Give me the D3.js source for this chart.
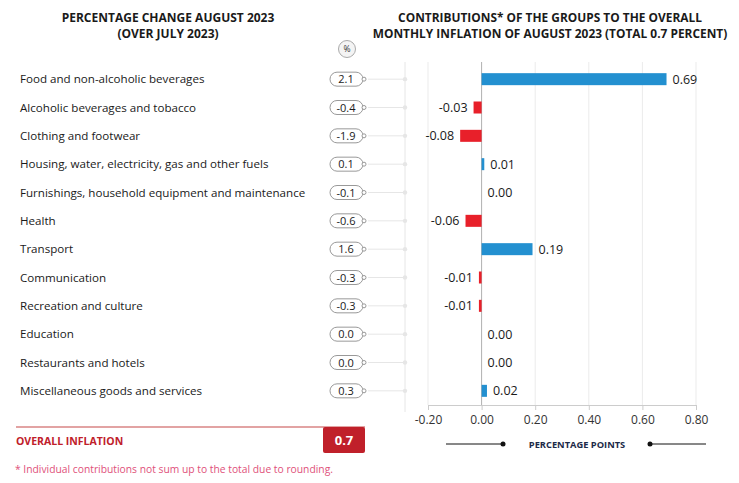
<!DOCTYPE html>
<html><head><meta charset="utf-8">
<script src="https://cdn.jsdelivr.net/npm/d3@7"></script>
<style>
body{margin:0;background:#fff;}
svg{display:block;font-family:"Open Sans",sans-serif;}
</style></head>
<body><svg id="c" width="739" height="483"></svg>
<script>
const categories = ["Food and non-alcoholic beverages","Alcoholic beverages and tobacco","Clothing and footwear","Housing, water, electricity, gas and other fuels","Furnishings, household equipment and maintenance","Health","Transport","Communication","Recreation and culture","Education","Restaurants and hotels","Miscellaneous goods and services"];
const pctChange = ["2.1","-0.4","-1.9","0.1","-0.1","-0.6","1.6","-0.3","-0.3","0.0","0.0","0.3"];
const contributions = [0.69,-0.03,-0.08,0.01,0.00,-0.06,0.19,-0.01,-0.01,0.00,0.00,0.02];
const xTicks = [-0.2,0,0.2,0.4,0.6,0.8];
const overall = "0.7";

const svg = d3.select("#c");
const x = d3.scaleLinear().domain([-0.2,0.8]).range([428,696]);
const y = d3.scaleBand().domain(categories).range([65,405]).paddingInner(0);
const cy = d => y(d) + y.bandwidth()/2;

// titles
const t1 = svg.append("text").attr("x",168).attr("y",22).attr("text-anchor","middle")
  .attr("font-weight",700).attr("font-size",12).attr("fill","#1a1a1a");
t1.append("tspan").attr("x",168).text("PERCENTAGE CHANGE AUGUST 2023");
t1.append("tspan").attr("x",168).attr("dy",16).text("(OVER JULY 2023)");
const t2 = svg.append("text").attr("x",550).attr("y",22).attr("text-anchor","middle")
  .attr("font-weight",700).attr("font-size",11.9).attr("fill","#1a1a1a");
t2.append("tspan").attr("x",550).text("CONTRIBUTIONS* OF THE GROUPS TO THE OVERALL");
t2.append("tspan").attr("x",550).attr("dy",16).text("MONTHLY INFLATION OF AUGUST 2023 (TOTAL 0.7 PERCENT)");

// % circle
svg.append("circle").attr("cx",347).attr("cy",49).attr("r",8.5).attr("fill","#f4f4f4").attr("stroke","#aaa");
svg.append("text").attr("x",347).attr("y",52).attr("text-anchor","middle").attr("font-size",8.5).attr("fill","#333").text("%");

// left vertical line
svg.append("line").attr("x1",405).attr("x2",405).attr("y1",62).attr("y2",412).attr("stroke","#e6e6e6");

// grid
svg.append("g").selectAll("line").data(xTicks).join("line")
  .attr("x1",d=>x(d)).attr("x2",d=>x(d)).attr("y1",62).attr("y2",405)
  .attr("stroke",d=>d===0?"#b0b0b0":"#ebebeb");

// axis
const ax = svg.append("g").attr("transform","translate(0,405)")
  .call(d3.axisBottom(x).tickValues(xTicks).tickFormat(d3.format(".2f")).tickSize(5).tickSizeOuter(0));
ax.select(".domain").attr("stroke","#ccc");
ax.selectAll(".tick line").attr("stroke","#ccc");
ax.selectAll(".tick text").attr("font-size",12).attr("fill","#333").attr("font-family","Open Sans, sans-serif").attr("dy","0.9em")
  .text(d=>d<0?"-"+Math.abs(d).toFixed(2):d.toFixed(2));

// rows
const rows = svg.append("g").selectAll("g").data(categories).join("g");
rows.append("text").attr("x",20).attr("y",d=>cy(d)+4).attr("font-size",11.6).attr("fill","#1a1a1a").text(d=>d);
rows.append("line").attr("x1",368).attr("x2",405).attr("y1",d=>cy(d)).attr("y2",d=>cy(d)).attr("stroke","#e6e6e6");
rows.append("circle").attr("cx",405).attr("cy",d=>cy(d)).attr("r",2.2).attr("fill","#e6e6e6");
rows.append("rect").attr("x",330).attr("y",d=>cy(d)-7).attr("width",33).attr("height",14).attr("rx",7)
  .attr("fill","#fff").attr("stroke","#999");
rows.append("circle").attr("cx",364).attr("cy",d=>cy(d)).attr("r",2).attr("fill","#fff").attr("stroke","#999");
rows.append("text").attr("x",346).attr("y",d=>cy(d)+4).attr("text-anchor","middle").attr("font-size",11).attr("fill","#1a1a1a")
  .text((d,i)=>pctChange[i]);

// bars
const bars = svg.append("g").selectAll("g").data(contributions).join("g");
bars.append("rect")
  .attr("x",d=>x(Math.min(0,d))).attr("width",d=>Math.abs(x(d)-x(0)))
  .attr("y",(d,i)=>cy(categories[i])-6).attr("height",12)
  .attr("fill",d=>d<0?"#e8202a":"#2390d0");
bars.append("text")
  .attr("x",d=>d<0?x(d)-6:x(d)+6).attr("y",(d,i)=>cy(categories[i])+4.5)
  .attr("text-anchor",d=>d<0?"end":"start").attr("font-size",12.5).attr("fill","#1a1a1a")
  .text(d=>d<0?"-"+Math.abs(d).toFixed(2):d.toFixed(2));

// percentage points label
svg.append("line").attr("x1",446).attr("x2",503).attr("y1",444).attr("y2",444).attr("stroke","#111");
svg.append("circle").attr("cx",503).attr("cy",444).attr("r",2.5).attr("fill","#111");
svg.append("line").attr("x1",650).attr("x2",706).attr("y1",444).attr("y2",444).attr("stroke","#111");
svg.append("circle").attr("cx",650).attr("cy",444).attr("r",2.5).attr("fill","#111");
svg.append("text").attr("x",577).attr("y",447.5).attr("text-anchor","middle").attr("font-size",9.3).attr("font-weight",700)
  .attr("fill","#1c2a48").text("PERCENTAGE POINTS");

// overall
svg.append("line").attr("x1",16).attr("x2",365).attr("y1",427).attr("y2",427).attr("stroke","#d98585").attr("stroke-width",1.5);
svg.append("text").attr("x",16).attr("y",445).attr("font-size",10.5).attr("font-weight",700).attr("fill","#c0202a").text("OVERALL INFLATION");
svg.append("rect").attr("x",323).attr("y",427).attr("width",42).attr("height",26).attr("rx",2).attr("fill","#c0202a");
svg.append("text").attr("x",344).attr("y",445).attr("text-anchor","middle").attr("font-size",13).attr("font-weight",700).attr("fill","#fff").text(overall);

// footnote
svg.append("text").attr("x",15).attr("y",473).attr("font-size",10.3).attr("fill","#e0507a")
  .text("* Individual contributions not sum up to the total due to rounding.");
</script></body></html>
